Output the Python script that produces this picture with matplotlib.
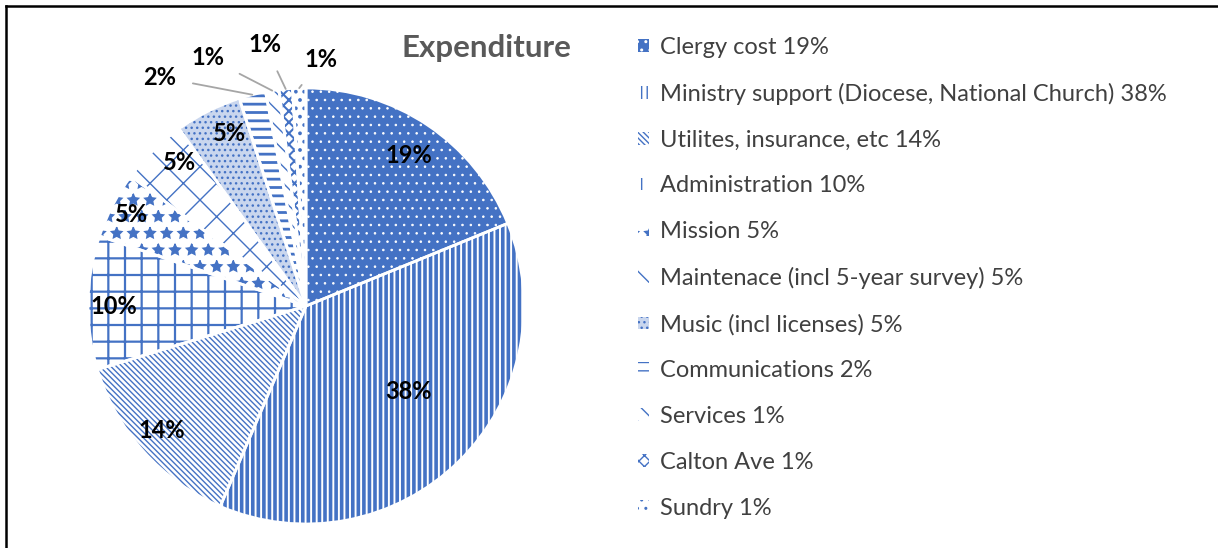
import matplotlib
matplotlib.use("Agg")
import matplotlib.pyplot as plt
import matplotlib.patches as mpatches
from matplotlib.lines import Line2D
import numpy as np

plt.rcParams['font.family'] = ['Lato', 'DejaVu Sans']

# data
categories = ["Clergy cost", "Ministry support (Diocese, National Church)",
              "Utilites, insurance, etc", "Administration", "Mission",
              "Maintenace (incl 5-year survey)", "Music (incl licenses)",
              "Communications", "Services", "Calton Ave", "Sundry"]
values = [19, 38, 14, 10, 5, 5, 5, 2, 1, 1, 1]

# looks
blue = '#4472C4'
faces = [blue, 'white', 'white', 'white', 'white', 'white', '#c9d6ee',
         'white', 'white', 'white', 'white']
hatch_cols = ['white', blue, blue, blue, blue, blue, blue, blue, blue, blue, blue]
hatches = ['..', '|||', '\\' * 6, '+', '*', 'x', '...', '--', '\\\\', 'xxx', '..']
hatch_lw = [0.6, 2.6, 1.0, 1.6, 1.0, 1.0, 1.0, 2.0, 1.0, 1.5, 1.5]

# label positions (pie units, centre = 0,0, radius = 1)
inside = {0: (0.47, 0.69), 1: (0.47, -0.39), 2: (-0.66, -0.57), 3: (-0.88, 0.0),
          4: (-0.80, 0.42), 5: (-0.58, 0.66), 6: (-0.35, 0.79)}
outside = {7: (-0.67, 1.05), 8: (-0.45, 1.14), 9: (-0.19, 1.20), 10: (0.07, 1.13)}

W, H = 1218, 548
fig = plt.figure(figsize=(W / 100, H / 100), dpi=100)
cx, cy, r = 306, 306, 218
ax = fig.add_axes([(cx - r) / W, (H - cy - r) / H, 2 * r / W, 2 * r / H])

wedges, _ = ax.pie(values, startangle=90, counterclock=False, radius=1,
                   wedgeprops=dict(linewidth=0))
for i, w in enumerate(wedges):
    w.set_facecolor(faces[i])
    w.set_edgecolor(hatch_cols[i])
    w.set_linewidth(0)
    w.set_hatch(hatches[i])
    if hasattr(w, 'set_hatch_linewidth'):
        w.set_hatch_linewidth(hatch_lw[i])

# white borders on top
ax.pie(values, startangle=90, counterclock=False, radius=1,
       colors=['none'] * len(values),
       wedgeprops=dict(linewidth=2, edgecolor='white', fill=False))

for i, (x, y) in inside.items():
    ax.text(x, y, f"{values[i]}%", ha='center', va='center', fontsize=17,
            fontweight='bold', color='black')

for i, (x, y) in outside.items():
    w = wedges[i]
    mid = np.deg2rad((w.theta1 + w.theta2) / 2)
    px, py = np.cos(mid) * 1.0, np.sin(mid) * 1.0
    ax.annotate(f"{values[i]}%", xy=(px, py), xytext=(x, y),
                ha='center', va='center', fontsize=17, fontweight='bold',
                color='black',
                arrowprops=dict(arrowstyle='-', color='#A6A6A6', lw=1.3,
                                shrinkA=10, shrinkB=0))

ax.set_xlim(-1, 1)
ax.set_ylim(-1, 1)
ax.set_aspect('equal')
ax.axis('off')

fig.text(486 / W, 1 - 48 / H, "Expenditure", ha='center', va='center',
         fontsize=22.5, fontweight='bold', color='#595959')

handles = []
for i in range(len(values)):
    p = mpatches.Patch(facecolor=faces[i], edgecolor=hatch_cols[i],
                       hatch=hatches[i], linewidth=0)
    handles.append(p)
labels = [f"{c} {v}%" for c, v in zip(categories, values)]
fig.legend(handles, labels, loc='upper left', bbox_to_anchor=(638 / W, 1 - 37 / H),
           frameon=False, fontsize=17, labelcolor='#404040',
           handlelength=0.45, handleheight=0.45, handletextpad=0.5,
           labelspacing=1.05, borderaxespad=0, borderpad=0)

# frame (top and left edge only visible)
fig.add_artist(Line2D([6 / W, 1], [1 - 6 / H, 1 - 6 / H], color='black', lw=1.8))
fig.add_artist(Line2D([6 / W, 6 / W], [0, 1 - 6 / H], color='black', lw=1.8))

fig.savefig('out.png', dpi=100)
